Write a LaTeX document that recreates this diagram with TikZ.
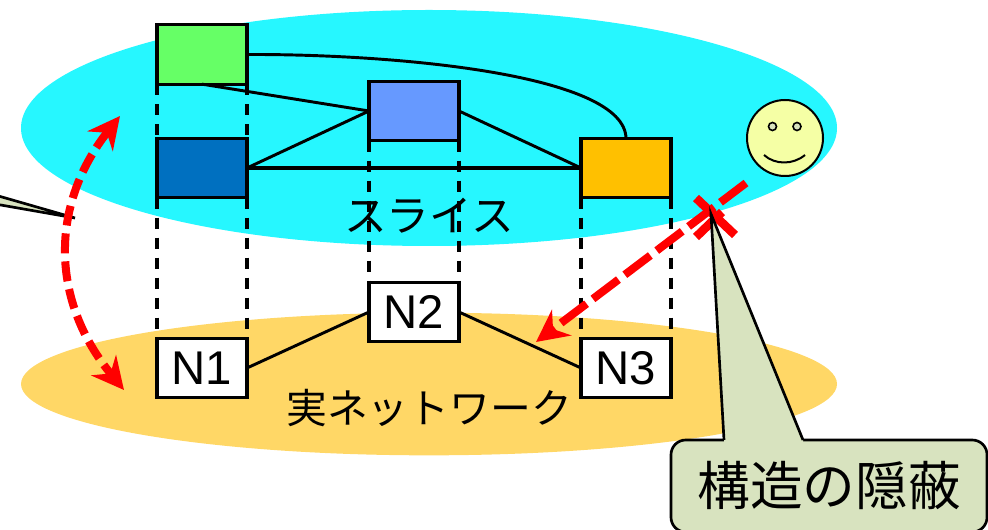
\documentclass[tikz,border=0pt]{standalone}
\usepackage{fontspec}
\setmainfont{Liberation Sans}
\newfontfamily\cjk{Noto Sans CJK JP}
\usetikzlibrary{arrows.meta,shapes.geometric}
\definecolor{slicecyan}{HTML}{26F7FF}
\definecolor{netorange}{HTML}{FFD766}
\definecolor{boxgreen}{HTML}{66FF66}
\definecolor{boxblue}{HTML}{0070C0}
\definecolor{boxperi}{HTML}{6699FF}
\definecolor{boxamber}{HTML}{FFC000}
\definecolor{calloutfill}{HTML}{D8E3BF}
\definecolor{smile}{HTML}{F5FFA5}
\tikzset{
  plane/.style={ellipse,draw=none,inner sep=0pt,outer sep=0pt},
  netbox/.style={draw=black,line width=2.4pt,minimum width=67.5pt,minimum height=44.5pt,inner sep=0pt,outer sep=0pt,font=\fontsize{35.5}{37}\selectfont},
  link/.style={black,line width=2.2pt},
  flatlink/.style={black,line width=2.7pt},
  drop/.style={black,line width=2.4pt,dash pattern=on 8.5pt off 6.5pt},
  redarrow/.style={red,line width=6pt,dash pattern=on 15pt off 6pt,{Stealth[length=24pt,width=24pt,inset=8pt]}-{Stealth[length=24pt,width=24pt,inset=8pt]}},
  redline/.style={red,line width=6pt,dash pattern=on 24pt off 6pt,-{Stealth[length=24pt,width=24pt,inset=8pt]}},
  cross/.style={red,line width=6.5pt},
  callout/.style={draw=black,fill=calloutfill,line width=2pt},
  jp/.style={inner sep=0pt,font=\cjk\fontsize{30.6}{32}\selectfont}
}
\begin{document}
\begin{tikzpicture}[x=0.75pt,y=-0.75pt]
\useasboundingbox (0,0) rectangle (988,530);
\clip (0,0) rectangle (988,530);
\node[plane,fill=slicecyan,minimum width=612pt,minimum height=177pt] (slice) at (429,128) {};
\node[plane,fill=netorange,minimum width=612pt,minimum height=107pt] (net) at (429,384) {};
\node[netbox,fill=boxgreen] (g) at (202,54.5) {};
\node[netbox,fill=boxblue] (b) at (202,168) {};
\node[netbox,fill=boxperi] (p) at (414,111) {};
\node[netbox,fill=boxamber] (a) at (626,168) {};
\node[netbox,fill=white] (n1) at (202,368) {N1};
\node[netbox,fill=white] (n2) at (414,312) {N2};
\node[netbox,fill=white] (n3) at (626,368) {N3};
% drop lines
\draw[drop] (g.south west) -- (b.north west);
\draw[drop] (g.south east) -- (b.north east);
\draw[drop] (b.south west) -- (n1.north west);
\draw[drop] (b.south east) -- (n1.north east);
\draw[drop] (p.south west) -- (n2.north west);
\draw[drop] (p.south east) -- (n2.north east);
\draw[drop] (a.south west) -- (n3.north west);
\draw[drop] (a.south east) -- (n3.north east);
% links
\draw[link] (g.south) -- (p.west);
\draw[link] (b.east) -- (p.west);
\draw[flatlink] (b.east) -- (a.west);
\draw[link] (p.east) -- (a.west);
\draw[link] (g.east) .. controls (400,54) and (625,75) .. (a.north);
\draw[link] (n1.east) -- (n2.west);
\draw[link] (n2.east) -- (n3.west);
% texts
\node[jp,font=\cjk\fontsize{32}{34}\selectfont] (slicetext) at (429,216) {スライス};
\node[jp] (nettext) at (429,408) {実ネットワーク};
% smiley
\node[circle,draw=black,fill=smile,line width=1.5pt,minimum size=57pt,inner sep=0pt] (face) at (785,138) {};
\node[circle,draw=black,fill=calloutfill,line width=1.2pt,minimum size=6pt,inner sep=0pt] (eyel) at (772.5,126.5) {};
\node[circle,draw=black,fill=calloutfill,line width=1.2pt,minimum size=6pt,inner sep=0pt] (eyer) at (797,126.5) {};
\coordinate (mouthl) at (764,155);
\coordinate (mouthr) at (805,155);
\draw[black,line width=1.5pt] (mouthl) .. controls (775,165) and (793,165) .. (mouthr);
% left callout stub
\coordinate (stubtip) at (75,218);
\coordinate (stuba) at (-5,195);
\coordinate (stubb) at (-5,204);
\draw[callout] (stuba) -- (stubtip) -- (stubb) -- cycle;
% red arrows
\coordinate (upperend) at (120,116);
\coordinate (lowerend) at (124,390);
\draw[redarrow] (upperend) .. controls (50,205) and (50,300) .. (lowerend);
\coordinate (userpt) at (746,183);
\coordinate (netpt) at (536,342);
\draw[redline] (userpt) -- (netpt);
\coordinate (xa) at (696,198);
\coordinate (xb) at (735,235);
\draw[cross] (xa) -- (xb);
\coordinate (xc) at (696,237);
\coordinate (xd) at (722,212);
\draw[cross] (xc) -- (xd);
% main callout
\node[callout,rounded corners=11pt,minimum width=237pt,minimum height=69pt,inner sep=0pt,font=\cjk\fontsize{39.5}{41}\selectfont] (hide) at (829,486) {構造の隠蔽};
\coordinate (tip) at (711,214);
\coordinate (taill) at (724,440);
\coordinate (tailr) at (803,440);
\fill[calloutfill] (taill) -- (tip) -- (tailr) -- ([yshift=-3pt]tailr) -- ([yshift=-3pt]taill) -- cycle;
\draw[black,line width=2pt,line join=miter] (taill) -- (tip) -- (tailr);
\end{tikzpicture}
\end{document}
